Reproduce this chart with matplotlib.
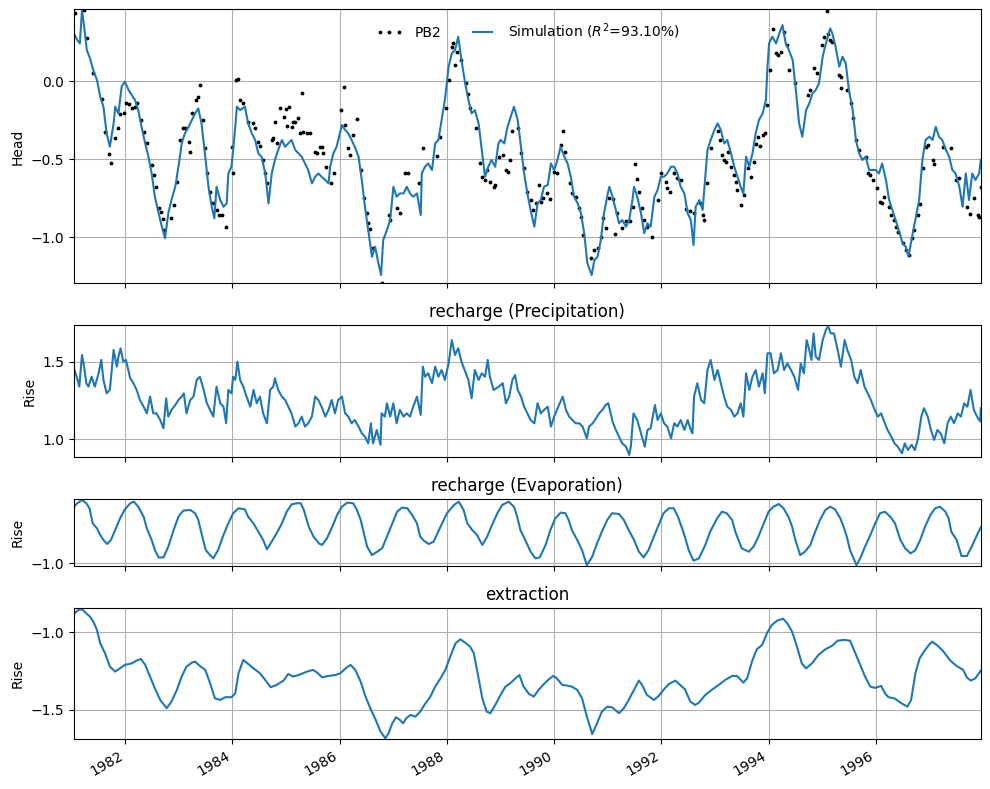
import matplotlib
matplotlib.use("Agg")
import matplotlib.pyplot as plt
import matplotlib.dates as mdates
from matplotlib.ticker import MultipleLocator
import numpy as np
import pandas as pd

# --- data (decimal years) ---
sim_years = [1981.04, 1981.10, 1981.15, 1981.19, 1981.23, 1981.28, 1981.34, 1981.40, 1981.47, 1981.53,
             1981.59, 1981.65, 1981.71, 1981.78, 1981.81, 1981.87, 1981.93, 1981.99, 1982.06, 1982.12,
             1982.18, 1982.24, 1982.30, 1982.37, 1982.43, 1982.49, 1982.55, 1982.62, 1982.68, 1982.74,
             1982.80, 1982.86, 1982.93, 1982.99, 1983.05, 1983.11, 1983.18, 1983.24, 1983.30, 1983.36,
             1983.42, 1983.49, 1983.55, 1983.61, 1983.66, 1983.70, 1983.77, 1983.83, 1983.89, 1983.92,
             1983.98, 1984.05, 1984.08, 1984.14, 1984.23, 1984.29, 1984.36, 1984.42, 1984.48, 1984.54,
             1984.61, 1984.67, 1984.73, 1984.79, 1984.85, 1984.92, 1984.98, 1985.04, 1985.10, 1985.17,
             1985.23, 1985.29, 1985.35, 1985.41, 1985.48, 1985.54, 1985.60, 1985.66, 1985.73, 1985.79,
             1985.82, 1985.88, 1985.94, 1986.00, 1986.04, 1986.10, 1986.16, 1986.22, 1986.28, 1986.35,
             1986.41, 1986.47, 1986.53, 1986.60, 1986.66, 1986.72, 1986.77, 1986.81, 1986.88, 1986.94,
             1987.00, 1987.06, 1987.12, 1987.19, 1987.25, 1987.31, 1987.37, 1987.44, 1987.51, 1987.53,
             1987.59, 1987.65, 1987.72, 1987.78, 1987.84, 1987.90, 1987.96, 1987.99, 1988.03, 1988.09,
             1988.15, 1988.21, 1988.27, 1988.34, 1988.40, 1988.46, 1988.52, 1988.59, 1988.65, 1988.71,
             1988.77, 1988.83, 1988.90, 1988.96, 1989.00, 1989.07, 1989.13, 1989.19, 1989.25, 1989.32,
             1989.38, 1989.44, 1989.50, 1989.56, 1989.63, 1989.69, 1989.75, 1989.81, 1989.88, 1989.94,
             1990.00, 1990.06, 1990.12, 1990.19, 1990.25, 1990.31, 1990.37, 1990.44, 1990.50, 1990.56,
             1990.62, 1990.70, 1990.75, 1990.81, 1990.87, 1990.93, 1991.00, 1991.03, 1991.09, 1991.15,
             1991.21, 1991.27, 1991.34, 1991.40, 1991.46, 1991.49, 1991.55, 1991.62, 1991.68, 1991.74,
             1991.80, 1991.87, 1991.93, 1991.99, 1992.05, 1992.11, 1992.18, 1992.24, 1992.30, 1992.36,
             1992.43, 1992.49, 1992.55, 1992.60, 1992.64, 1992.71, 1992.77, 1992.80, 1992.86, 1992.92,
             1992.99, 1993.05, 1993.11, 1993.17, 1993.23, 1993.30, 1993.36, 1993.42, 1993.48, 1993.53,
             1993.58, 1993.64, 1993.70, 1993.76, 1993.82, 1993.89, 1993.95, 1993.98, 1994.01, 1994.07,
             1994.14, 1994.20, 1994.26, 1994.32, 1994.38, 1994.45, 1994.51, 1994.57, 1994.63, 1994.70,
             1994.76, 1994.82, 1994.88, 1994.94, 1995.01, 1995.07, 1995.15, 1995.19, 1995.25, 1995.32,
             1995.38, 1995.44, 1995.50, 1995.57, 1995.63, 1995.69, 1995.75, 1995.81, 1995.88, 1995.94,
             1996.00, 1996.06, 1996.12, 1996.19, 1996.25, 1996.31, 1996.37, 1996.43, 1996.50, 1996.56,
             1996.61, 1996.69, 1996.75, 1996.81, 1996.87, 1996.93, 1997.00, 1997.06, 1997.12, 1997.18,
             1997.24, 1997.31, 1997.37, 1997.43, 1997.49, 1997.56, 1997.62, 1997.68, 1997.74, 1997.80,
             1997.86, 1997.93, 1997.96]
sim_head = [0.305, 0.262, 0.241, 0.454, 0.348, 0.198, 0.145, 0.070, 0.006, -0.100,
            -0.164, -0.335, -0.420, -0.271, -0.164, -0.207, -0.036, -0.004, -0.058, -0.090,
            -0.122, -0.186, -0.292, -0.399, -0.484, -0.591, -0.740, -0.846, -0.932, -1.006,
            -0.846, -0.761, -0.676, -0.548, -0.399, -0.335, -0.292, -0.249, -0.207, -0.175,
            -0.271, -0.484, -0.676, -0.804, -0.878, -0.676, -0.761, -0.804, -0.783, -0.591,
            -0.548, -0.292, -0.164, -0.186, -0.164, -0.271, -0.335, -0.377, -0.463, -0.484,
            -0.591, -0.783, -0.591, -0.505, -0.441, -0.377, -0.420, -0.399, -0.377, -0.441,
            -0.463, -0.484, -0.527, -0.569, -0.655, -0.612, -0.591, -0.612, -0.633, -0.655,
            -0.548, -0.463, -0.420, -0.335, -0.281, -0.313, -0.335, -0.377, -0.420, -0.484,
            -0.633, -0.804, -0.953, -1.124, -1.060, -1.166, -1.241, -1.017, -0.953, -0.889,
            -0.676, -0.740, -0.719, -0.719, -0.676, -0.719, -0.740, -0.719, -0.857, -0.591,
            -0.548, -0.527, -0.569, -0.399, -0.377, -0.249, -0.122, -0.036, 0.092, 0.177,
            0.198, 0.284, 0.134, -0.015, -0.122, -0.207, -0.186, -0.271, -0.441, -0.612,
            -0.548, -0.505, -0.548, -0.399, -0.377, -0.399, -0.292, -0.228, -0.164, -0.249,
            -0.420, -0.591, -0.719, -0.825, -0.932, -0.783, -0.761, -0.676, -0.665, -0.527,
            -0.569, -0.505, -0.420, -0.484, -0.527, -0.612, -0.740, -0.783, -0.846, -0.974,
            -1.166, -1.241, -1.145, -1.124, -1.017, -0.846, -0.719, -0.676, -0.740, -0.825,
            -0.910, -0.889, -0.932, -0.889, -0.761, -0.676, -0.740, -0.846, -0.974, -0.910,
            -0.932, -0.740, -0.697, -0.612, -0.612, -0.591, -0.548, -0.548, -0.591, -0.676,
            -0.719, -0.846, -0.889, -1.049, -0.804, -0.761, -0.825, -0.697, -0.441, -0.377,
            -0.313, -0.271, -0.313, -0.399, -0.377, -0.463, -0.548, -0.612, -0.676, -0.719,
            -0.484, -0.548, -0.463, -0.335, -0.249, -0.207, -0.122, 0.092, 0.241, 0.284,
            0.241, 0.305, 0.358, 0.241, 0.198, 0.134, -0.058, -0.271, -0.356, -0.186,
            -0.143, -0.079, -0.058, -0.015, 0.156, 0.241, 0.337, 0.305, 0.220, 0.092,
            0.156, 0.113, -0.058, -0.186, -0.377, -0.463, -0.505, -0.484, -0.569, -0.569,
            -0.569, -0.591, -0.527, -0.633, -0.761, -0.825, -0.889, -0.953, -1.038, -1.060,
            -1.124, -0.974, -0.868, -0.761, -0.505, -0.377, -0.356, -0.377, -0.292, -0.356,
            -0.377, -0.441, -0.484, -0.569, -0.591, -0.676, -0.804, -0.591, -0.761, -0.591,
            -0.633, -0.591, -0.505]

obs_years = [1981.06, 1981.23, 1981.29, 1981.39, 1981.56, 1981.62, 1981.70, 1981.74, 1981.81, 1981.87,
             1981.90, 1981.98, 1982.01, 1982.06, 1982.12, 1982.17, 1982.22, 1982.30, 1982.34, 1982.40,
             1982.49, 1982.53, 1982.57, 1982.62, 1982.66, 1982.71, 1982.72, 1982.86, 1982.91, 1982.96,
             1983.02, 1983.07, 1983.11, 1983.18, 1983.21, 1983.24, 1983.32, 1983.36, 1983.39, 1983.44,
             1983.49, 1983.53, 1983.58, 1983.64, 1983.70, 1983.75, 1983.80, 1983.87, 1983.98, 1984.01,
             1984.06, 1984.10, 1984.14, 1984.20, 1984.29, 1984.39, 1984.42, 1984.48, 1984.51, 1984.57,
             1984.61, 1984.64, 1984.73, 1984.76, 1984.79, 1984.82, 1984.89, 1984.95, 1985.00, 1985.01,
             1985.05, 1985.10, 1985.13, 1985.17, 1985.22, 1985.26, 1985.29, 1985.32, 1985.38, 1985.45,
             1985.54, 1985.57, 1985.63, 1985.66, 1985.69, 1985.74, 1985.83, 1985.90, 1986.02, 1986.07,
             1986.10, 1986.16, 1986.19, 1986.25, 1986.33, 1986.39, 1986.46, 1986.50, 1986.53, 1986.56,
             1986.62, 1986.78, 1986.91, 1986.94, 1987.06, 1987.12, 1987.22, 1987.28, 1987.47, 1987.55,
             1987.81, 1987.87, 1987.98, 1988.03, 1988.09, 1988.12, 1988.15, 1988.18, 1988.27, 1988.36,
             1988.40, 1988.43, 1988.54, 1988.62, 1988.65, 1988.71, 1988.74, 1988.80, 1988.87, 1988.90,
             1988.97, 1989.04, 1989.10, 1989.13, 1989.18, 1989.21, 1989.32, 1989.38, 1989.44, 1989.49,
             1989.56, 1989.61, 1989.66, 1989.72, 1989.76, 1989.80, 1989.86, 1989.93, 1990.00, 1990.06,
             1990.12, 1990.16, 1990.20, 1990.30, 1990.33, 1990.40, 1990.47, 1990.50, 1990.53, 1990.68,
             1990.75, 1990.81, 1990.88, 1990.92, 1990.96, 1991.03, 1991.09, 1991.13, 1991.17, 1991.26,
             1991.34, 1991.42, 1991.48, 1991.50, 1991.55, 1991.59, 1991.63, 1991.67, 1991.74, 1991.83,
             1991.93, 1991.99, 1992.08, 1992.11, 1992.16, 1992.23, 1992.30, 1992.36, 1992.46, 1992.54,
             1992.61, 1992.72, 1992.77, 1992.80, 1992.85, 1992.92, 1993.05, 1993.10, 1993.14, 1993.17,
             1993.20, 1993.25, 1993.30, 1993.35, 1993.39, 1993.42, 1993.48, 1993.54, 1993.61, 1993.67,
             1993.73, 1993.76, 1993.81, 1993.84, 1993.89, 1993.93, 1993.97, 1994.03, 1994.09, 1994.14,
             1994.18, 1994.23, 1994.29, 1994.34, 1994.38, 1994.49, 1994.73, 1994.78, 1994.84, 1994.90,
             1994.99, 1995.04, 1995.09, 1995.11, 1995.15, 1995.19, 1995.32, 1995.35, 1995.36, 1995.47,
             1995.53, 1995.57, 1995.63, 1995.69, 1995.81, 1995.85, 1995.90, 1995.94, 1996.03, 1996.08,
             1996.11, 1996.16, 1996.25, 1996.28, 1996.34, 1996.37, 1996.41, 1996.50, 1996.56, 1996.62,
             1996.67, 1996.72, 1996.78, 1996.83, 1996.89, 1996.93, 1996.97, 1997.06, 1997.09, 1997.25,
             1997.40, 1997.49, 1997.56, 1997.71, 1997.76, 1997.84, 1997.90, 1997.93, 1997.96]
obs_head = [0.433, 0.454, 0.273, 0.049, -0.117, -0.324, -0.469, -0.527, -0.365, -0.303,
            -0.213, -0.207, -0.143, -0.147, -0.175, -0.164, -0.143, -0.249, -0.324, -0.399,
            -0.537, -0.601, -0.676, -0.814, -0.836, -0.885, -0.953, -0.878, -0.793, -0.644,
            -0.377, -0.303, -0.303, -0.388, -0.452, -0.207, -0.122, -0.100, -0.026, -0.249,
            -0.431, -0.591, -0.708, -0.783, -0.825, -0.857, -0.857, -0.932, -0.420, -0.591,
            0.006, 0.011, -0.122, -0.143, -0.260, -0.271, -0.303, -0.388, -0.414, -0.505,
            -0.591, -0.655, -0.377, -0.367, -0.260, -0.399, -0.175, -0.228, -0.181, -0.288,
            -0.164, -0.292, -0.260, -0.260, -0.239, -0.335, -0.079, -0.324, -0.335, -0.335,
            -0.452, -0.463, -0.420, -0.420, -0.463, -0.548, -0.655, -0.591, -0.186, -0.036,
            -0.281, -0.431, -0.473, -0.345, -0.243, -0.569, -0.751, -0.846, -0.910, -0.949,
            -1.070, -1.294, -0.857, -0.889, -0.814, -0.846, -0.591, -0.591, -0.655, -0.431,
            -0.480, -0.356, -0.175, 0.006, 0.220, 0.241, 0.102, 0.188, 0.134, -0.015,
            -0.085, -0.175, -0.303, -0.527, -0.612, -0.633, -0.569, -0.644, -0.676, -0.665,
            -0.484, -0.473, -0.569, -0.580, -0.505, -0.320, -0.303, -0.463, -0.559, -0.708,
            -0.761, -0.825, -0.783, -0.665, -0.772, -0.751, -0.719, -0.757, -0.580, -0.591,
            -0.409, -0.320, -0.452, -0.655, -0.714, -0.740, -0.814, -0.868, -0.985, -1.130,
            -1.081, -1.070, -0.996, -0.878, -0.938, -0.751, -0.757, -0.981, -0.846, -0.942,
            -0.893, -0.893, -0.804, -0.533, -0.627, -0.708, -0.814, -0.889, -0.932, -0.996,
            -0.761, -0.591, -0.644, -0.687, -0.712, -0.591, -0.618, -0.633, -0.821, -0.829,
            -0.846, -0.778, -0.857, -0.889, -0.655, -0.426, -0.320, -0.377, -0.473, -0.505,
            -0.516, -0.452, -0.548, -0.601, -0.644, -0.697, -0.793, -0.729, -0.559, -0.612,
            -0.516, -0.403, -0.356, -0.414, -0.345, -0.335, -0.154, 0.070, 0.330, 0.177,
            0.166, 0.188, 0.311, 0.230, 0.070, -0.015, -0.090, -0.058, 0.081, 0.049,
            0.230, 0.284, 0.448, 0.299, 0.262, 0.252, 0.038, 0.028, -0.047, -0.058,
            -0.143, -0.239, -0.377, -0.441, -0.484, -0.586, -0.601, -0.633, -0.687, -0.772,
            -0.783, -0.740, -0.804, -0.857, -0.889, -0.932, -0.964, -1.038, -1.081, -1.113,
            -1.006, -0.953, -0.857, -0.787, -0.559, -0.420, -0.409, -0.505, -0.533, -0.420,
            -0.431, -0.633, -0.623, -0.804, -0.853, -0.751, -0.857, -0.868, -0.680]

prec_years = [1981.04, 1981.09, 1981.14, 1981.19, 1981.23, 1981.27, 1981.31, 1981.37, 1981.43, 1981.50,
              1981.55, 1981.59, 1981.65, 1981.71, 1981.78, 1981.84, 1981.87, 1981.91, 1981.96, 1982.01,
              1982.09, 1982.15, 1982.21, 1982.27, 1982.34, 1982.40, 1982.46, 1982.52, 1982.58, 1982.65,
              1982.71, 1982.76, 1982.80, 1982.86, 1982.93, 1982.99, 1983.05, 1983.09, 1983.14, 1983.21,
              1983.27, 1983.33, 1983.39, 1983.46, 1983.52, 1983.58, 1983.64, 1983.70, 1983.77, 1983.83,
              1983.88, 1983.92, 1983.98, 1984.01, 1984.05, 1984.09, 1984.14, 1984.20, 1984.26, 1984.33,
              1984.39, 1984.45, 1984.51, 1984.57, 1984.64, 1984.70, 1984.76, 1984.79, 1984.85, 1984.92,
              1984.98, 1985.04, 1985.10, 1985.17, 1985.23, 1985.29, 1985.35, 1985.41, 1985.48, 1985.54,
              1985.60, 1985.66, 1985.73, 1985.79, 1985.85, 1985.91, 1985.97, 1986.04, 1986.10, 1986.16,
              1986.22, 1986.28, 1986.35, 1986.41, 1986.47, 1986.53, 1986.58, 1986.62, 1986.69, 1986.76,
              1986.78, 1986.84, 1986.88, 1986.94, 1987.00, 1987.06, 1987.12, 1987.19, 1987.25, 1987.31,
              1987.37, 1987.44, 1987.51, 1987.55, 1987.59, 1987.65, 1987.72, 1987.78, 1987.84, 1987.90,
              1987.96, 1988.03, 1988.09, 1988.15, 1988.21, 1988.27, 1988.34, 1988.40, 1988.46, 1988.52,
              1988.59, 1988.65, 1988.71, 1988.76, 1988.80, 1988.87, 1988.97, 1989.04, 1989.10, 1989.16,
              1989.22, 1989.27, 1989.32, 1989.38, 1989.44, 1989.50, 1989.56, 1989.63, 1989.69, 1989.75,
              1989.81, 1989.88, 1989.94, 1990.00, 1990.09, 1990.16, 1990.22, 1990.28, 1990.34, 1990.40,
              1990.47, 1990.53, 1990.61, 1990.65, 1990.72, 1990.78, 1990.84, 1990.90, 1990.96, 1991.01,
              1991.09, 1991.15, 1991.21, 1991.27, 1991.34, 1991.40, 1991.43, 1991.48, 1991.55, 1991.62,
              1991.69, 1991.74, 1991.80, 1991.88, 1991.93, 1991.99, 1992.05, 1992.11, 1992.18, 1992.24,
              1992.30, 1992.36, 1992.43, 1992.49, 1992.55, 1992.58, 1992.61, 1992.67, 1992.74, 1992.80,
              1992.86, 1992.92, 1992.99, 1993.05, 1993.11, 1993.17, 1993.23, 1993.30, 1993.36, 1993.42,
              1993.48, 1993.53, 1993.58, 1993.64, 1993.70, 1993.76, 1993.82, 1993.89, 1993.93, 1993.98,
              1994.04, 1994.10, 1994.17, 1994.23, 1994.29, 1994.35, 1994.42, 1994.48, 1994.55, 1994.60,
              1994.66, 1994.71, 1994.76, 1994.80, 1994.84, 1994.88, 1994.94, 1995.01, 1995.07, 1995.11,
              1995.16, 1995.22, 1995.29, 1995.35, 1995.42, 1995.47, 1995.54, 1995.60, 1995.66, 1995.72,
              1995.79, 1995.85, 1995.91, 1995.98, 1996.04, 1996.10, 1996.17, 1996.22, 1996.29, 1996.35,
              1996.41, 1996.49, 1996.54, 1996.60, 1996.67, 1996.73, 1996.79, 1996.85, 1996.90, 1996.97,
              1997.03, 1997.09, 1997.15, 1997.21, 1997.28, 1997.34, 1997.40, 1997.46, 1997.53, 1997.59,
              1997.65, 1997.71, 1997.77, 1997.83, 1997.89, 1997.95, 1997.96]
prec_rise = [1.457, 1.403, 1.339, 1.543, 1.468, 1.361, 1.339, 1.403, 1.339, 1.425,
             1.511, 1.382, 1.296, 1.318, 1.575, 1.468, 1.532, 1.586, 1.500, 1.511,
             1.393, 1.361, 1.318, 1.253, 1.210, 1.167, 1.275, 1.167, 1.167, 1.124,
             1.071, 1.264, 1.146, 1.189, 1.221, 1.253, 1.275, 1.296, 1.167, 1.253,
             1.275, 1.382, 1.403, 1.318, 1.232, 1.189, 1.146, 1.339, 1.232, 1.210,
             1.103, 1.318, 1.296, 1.403, 1.382, 1.500, 1.382, 1.339, 1.275, 1.210,
             1.318, 1.232, 1.275, 1.167, 1.103, 1.318, 1.339, 1.393, 1.318, 1.275,
             1.253, 1.210, 1.167, 1.082, 1.103, 1.146, 1.082, 1.103, 1.146, 1.275,
             1.253, 1.210, 1.146, 1.189, 1.253, 1.167, 1.253, 1.275, 1.167, 1.146,
             1.103, 1.124, 1.082, 1.039, 1.017, 0.974, 1.103, 0.974, 1.060, 0.964,
             1.167, 1.146, 1.232, 1.146, 1.232, 1.103, 1.189, 1.146, 1.167, 1.146,
             1.210, 1.275, 1.157, 1.468, 1.403, 1.425, 1.361, 1.468, 1.403, 1.446,
             1.382, 1.489, 1.639, 1.543, 1.586, 1.500, 1.436, 1.382, 1.264, 1.446,
             1.382, 1.425, 1.403, 1.511, 1.403, 1.318, 1.339, 1.361, 1.232, 1.275,
             1.382, 1.414, 1.318, 1.275, 1.210, 1.167, 1.124, 1.103, 1.232, 1.167,
             1.189, 1.210, 1.082, 1.146, 1.221, 1.275, 1.189, 1.146, 1.124, 1.103,
             1.103, 1.082, 1.006, 1.082, 1.103, 1.135, 1.167, 1.189, 1.221, 1.232,
             1.114, 1.060, 1.017, 0.974, 0.953, 0.899, 0.953, 1.167, 1.124, 1.039,
             0.953, 1.060, 1.071, 1.221, 1.124, 1.167, 1.103, 1.082, 1.006, 1.103,
             1.082, 1.124, 1.060, 1.124, 1.060, 1.039, 1.275, 1.361, 1.253, 1.232,
             1.446, 1.511, 1.382, 1.446, 1.361, 1.275, 1.210, 1.189, 1.146, 1.167,
             1.232, 1.146, 1.425, 1.318, 1.403, 1.446, 1.339, 1.425, 1.296, 1.554,
             1.554, 1.425, 1.446, 1.554, 1.446, 1.489, 1.446, 1.403, 1.318, 1.489,
             1.425, 1.639, 1.575, 1.511, 1.682, 1.532, 1.511, 1.639, 1.704, 1.730,
             1.682, 1.682, 1.575, 1.468, 1.639, 1.575, 1.511, 1.403, 1.361, 1.446,
             1.339, 1.296, 1.253, 1.189, 1.146, 1.167, 1.103, 1.060, 1.017, 0.974,
             0.953, 0.910, 0.974, 0.931, 0.964, 0.931, 1.006, 1.146, 1.200, 1.146,
             1.060, 0.996, 1.060, 1.039, 0.974, 1.103, 1.146, 1.103, 1.167, 1.146,
             1.232, 1.210, 1.318, 1.189, 1.146, 1.114, 1.200]

evap_years = [1981.04, 1981.10, 1981.19, 1981.27, 1981.33, 1981.39, 1981.47, 1981.53, 1981.59, 1981.66,
              1981.73, 1981.81, 1981.90, 1981.99, 1982.09, 1982.16, 1982.24, 1982.34, 1982.40, 1982.49,
              1982.55, 1982.62, 1982.71, 1982.80, 1982.90, 1982.99, 1983.08, 1983.21, 1983.30, 1983.36,
              1983.42, 1983.50, 1983.58, 1983.64, 1983.73, 1983.83, 1983.92, 1984.01, 1984.11, 1984.23,
              1984.29, 1984.39, 1984.48, 1984.57, 1984.64, 1984.73, 1984.82, 1984.92, 1985.01, 1985.10,
              1985.20, 1985.27, 1985.33, 1985.42, 1985.51, 1985.61, 1985.67, 1985.76, 1985.86, 1985.95,
              1986.04, 1986.14, 1986.25, 1986.32, 1986.39, 1986.45, 1986.51, 1986.60, 1986.70, 1986.79,
              1986.88, 1986.98, 1987.07, 1987.16, 1987.26, 1987.35, 1987.44, 1987.50, 1987.57, 1987.66,
              1987.75, 1987.88, 1988.00, 1988.13, 1988.22, 1988.31, 1988.38, 1988.47, 1988.56, 1988.66,
              1988.75, 1988.84, 1988.94, 1989.03, 1989.15, 1989.25, 1989.31, 1989.37, 1989.46, 1989.56,
              1989.65, 1989.73, 1989.84, 1989.93, 1990.02, 1990.12, 1990.21, 1990.27, 1990.33, 1990.43,
              1990.52, 1990.61, 1990.71, 1990.80, 1990.89, 1990.99, 1991.08, 1991.21, 1991.30, 1991.39,
              1991.49, 1991.58, 1991.67, 1991.76, 1991.86, 1991.95, 1992.04, 1992.14, 1992.23, 1992.31,
              1992.42, 1992.51, 1992.60, 1992.70, 1992.82, 1992.91, 1993.04, 1993.13, 1993.22, 1993.32,
              1993.38, 1993.44, 1993.50, 1993.63, 1993.72, 1993.81, 1993.91, 1994.00, 1994.09, 1994.19,
              1994.28, 1994.37, 1994.44, 1994.50, 1994.59, 1994.68, 1994.78, 1994.87, 1994.96, 1995.06,
              1995.15, 1995.24, 1995.34, 1995.40, 1995.46, 1995.52, 1995.64, 1995.71, 1995.80, 1995.90,
              1995.99, 1996.08, 1996.17, 1996.27, 1996.36, 1996.46, 1996.55, 1996.65, 1996.74, 1996.83,
              1996.92, 1997.02, 1997.11, 1997.20, 1997.30, 1997.36, 1997.41, 1997.51, 1997.60, 1997.70,
              1997.79, 1997.89, 1997.96]
evap_rise = [-0.637, -0.615, -0.594, -0.615, -0.647, -0.744, -0.776, -0.818, -0.850, -0.876,
             -0.850, -0.786, -0.712, -0.654, -0.615, -0.605, -0.637, -0.701, -0.776, -0.850,
             -0.915, -0.962, -0.962, -0.893, -0.786, -0.701, -0.662, -0.658, -0.679, -0.722,
             -0.808, -0.915, -0.947, -0.968, -0.915, -0.818, -0.744, -0.679, -0.647, -0.654,
             -0.701, -0.744, -0.797, -0.850, -0.910, -0.861, -0.808, -0.744, -0.669, -0.622,
             -0.615, -0.615, -0.658, -0.765, -0.829, -0.872, -0.882, -0.840, -0.765, -0.690,
             -0.637, -0.611, -0.615, -0.658, -0.722, -0.808, -0.893, -0.947, -0.925, -0.904,
             -0.829, -0.744, -0.669, -0.643, -0.647, -0.690, -0.744, -0.829, -0.855, -0.876,
             -0.861, -0.765, -0.679, -0.626, -0.605, -0.658, -0.744, -0.786, -0.818, -0.882,
             -0.829, -0.754, -0.679, -0.626, -0.605, -0.637, -0.701, -0.786, -0.850, -0.925,
             -0.968, -0.962, -0.882, -0.786, -0.712, -0.675, -0.679, -0.722, -0.786, -0.850,
             -0.915, -1.011, -0.957, -0.872, -0.797, -0.722, -0.679, -0.684, -0.722, -0.786,
             -0.850, -0.925, -0.962, -0.915, -0.829, -0.754, -0.679, -0.647, -0.647, -0.701,
             -0.808, -0.915, -0.983, -0.968, -0.882, -0.797, -0.712, -0.669, -0.679, -0.722,
             -0.797, -0.850, -0.904, -0.925, -0.893, -0.829, -0.744, -0.669, -0.637, -0.620,
             -0.647, -0.701, -0.765, -0.850, -0.947, -0.925, -0.882, -0.797, -0.722, -0.658,
             -0.637, -0.654, -0.712, -0.765, -0.829, -0.915, -1.011, -0.968, -0.893, -0.818,
             -0.744, -0.679, -0.669, -0.701, -0.744, -0.850, -0.904, -0.936, -0.915, -0.850,
             -0.765, -0.690, -0.647, -0.637, -0.669, -0.712, -0.797, -0.850, -0.953, -0.953,
             -0.893, -0.818, -0.769]

extr_years = [1981.04, 1981.12, 1981.19, 1981.27, 1981.34, 1981.40, 1981.47, 1981.53, 1981.62, 1981.71,
              1981.81, 1981.90, 1981.99, 1982.12, 1982.21, 1982.29, 1982.37, 1982.46, 1982.55, 1982.65,
              1982.77, 1982.86, 1982.96, 1983.05, 1983.14, 1983.24, 1983.30, 1983.39, 1983.49, 1983.58,
              1983.67, 1983.77, 1983.86, 1983.98, 1984.05, 1984.11, 1984.20, 1984.29, 1984.39, 1984.51,
              1984.61, 1984.71, 1984.82, 1984.95, 1985.04, 1985.13, 1985.23, 1985.39, 1985.50, 1985.58,
              1985.67, 1985.79, 1985.92, 1986.01, 1986.11, 1986.20, 1986.29, 1986.39, 1986.48, 1986.57,
              1986.67, 1986.76, 1986.85, 1986.91, 1986.98, 1987.05, 1987.12, 1987.18, 1987.24, 1987.32,
              1987.41, 1987.50, 1987.60, 1987.69, 1987.78, 1987.88, 1987.97, 1988.06, 1988.16, 1988.25,
              1988.34, 1988.43, 1988.50, 1988.56, 1988.66, 1988.74, 1988.81, 1988.90, 1989.00, 1989.09,
              1989.18, 1989.28, 1989.35, 1989.43, 1989.53, 1989.62, 1989.71, 1989.81, 1989.90, 1989.98,
              1990.05, 1990.15, 1990.24, 1990.33, 1990.43, 1990.52, 1990.61, 1990.71, 1990.80, 1990.89,
              1990.99, 1991.08, 1991.21, 1991.30, 1991.39, 1991.49, 1991.58, 1991.64, 1991.73, 1991.86,
              1991.95, 1992.04, 1992.14, 1992.26, 1992.35, 1992.44, 1992.54, 1992.63, 1992.70, 1992.82,
              1992.94, 1993.07, 1993.19, 1993.32, 1993.41, 1993.47, 1993.53, 1993.60, 1993.69, 1993.78,
              1993.88, 1993.97, 1994.06, 1994.16, 1994.27, 1994.35, 1994.44, 1994.53, 1994.62, 1994.70,
              1994.81, 1994.93, 1995.06, 1995.18, 1995.29, 1995.40, 1995.52, 1995.62, 1995.71, 1995.80,
              1995.90, 1995.99, 1996.10, 1996.18, 1996.24, 1996.36, 1996.46, 1996.59, 1996.66, 1996.74,
              1996.82, 1996.90, 1996.99, 1997.05, 1997.14, 1997.25, 1997.39, 1997.51, 1997.63, 1997.70,
              1997.77, 1997.86, 1997.96]
extr_rise = [-0.882, -0.856, -0.852, -0.878, -0.899, -0.931, -0.985, -1.071, -1.135, -1.221,
             -1.253, -1.232, -1.210, -1.200, -1.182, -1.172, -1.210, -1.285, -1.361, -1.436,
             -1.489, -1.446, -1.371, -1.285, -1.221, -1.195, -1.189, -1.217, -1.242, -1.328,
             -1.425, -1.436, -1.418, -1.418, -1.393, -1.264, -1.178, -1.204, -1.232, -1.264,
             -1.307, -1.354, -1.339, -1.311, -1.268, -1.285, -1.275, -1.253, -1.242, -1.260,
             -1.290, -1.281, -1.275, -1.264, -1.232, -1.210, -1.242, -1.318, -1.414, -1.489,
             -1.564, -1.639, -1.682, -1.650, -1.586, -1.547, -1.564, -1.586, -1.554, -1.532,
             -1.543, -1.511, -1.457, -1.414, -1.350, -1.296, -1.242, -1.157, -1.071, -1.045,
             -1.067, -1.092, -1.135, -1.242, -1.425, -1.511, -1.521, -1.468, -1.403, -1.350,
             -1.328, -1.296, -1.275, -1.350, -1.397, -1.414, -1.371, -1.333, -1.303, -1.281,
             -1.296, -1.339, -1.343, -1.350, -1.371, -1.425, -1.543, -1.655, -1.586, -1.511,
             -1.479, -1.483, -1.521, -1.489, -1.436, -1.371, -1.311, -1.339, -1.403, -1.436,
             -1.410, -1.371, -1.333, -1.311, -1.339, -1.367, -1.446, -1.468, -1.453, -1.403,
             -1.371, -1.339, -1.307, -1.281, -1.281, -1.303, -1.324, -1.296, -1.189, -1.109,
             -1.082, -1.006, -0.953, -0.925, -0.912, -0.942, -0.996, -1.092, -1.200, -1.232,
             -1.200, -1.146, -1.109, -1.088, -1.054, -1.049, -1.054, -1.135, -1.210, -1.285,
             -1.350, -1.358, -1.345, -1.397, -1.418, -1.427, -1.453, -1.479, -1.436, -1.264,
             -1.167, -1.124, -1.082, -1.060, -1.082, -1.118, -1.182, -1.217, -1.242, -1.290,
             -1.311, -1.296, -1.247]

r2_label = r"Simulation ($R^2$=93.10%)"
obs_label = "PB2"
panel_titles = ["recharge (Precipitation)", "recharge (Evaporation)", "extraction"]


def to_dates(years):
    years = np.asarray(years, dtype=float)
    return pd.Timestamp("1981-01-01") + pd.to_timedelta((years - 1981.0) * 365.25, unit="D")


fig = plt.figure(figsize=(9.9, 7.89), dpi=100)
left, width = 0.0747, 0.916
ax1 = fig.add_axes([left, 0.6409, width, 0.3473])
ax2 = fig.add_axes([left, 0.4204, width, 0.1677], sharex=ax1)
ax3 = fig.add_axes([left, 0.2826, width, 0.0845], sharex=ax1)
ax4 = fig.add_axes([left, 0.0634, width, 0.1657], sharex=ax1)

blue = "#1f77b4"

ax1.plot(to_dates(obs_years), obs_head, linestyle="none", marker=".", ms=3.5,
         color="k", label=obs_label)
ax1.plot(to_dates(sim_years), sim_head, color=blue, lw=1.5, label=r2_label)
ax1.set_ylim(-1.294, 0.459)
ax1.set_ylabel("Head")
ax1.legend(loc="upper center", ncol=2, frameon=False, numpoints=3)

ax2.plot(to_dates(prec_years), prec_rise, color=blue, lw=1.5)
ax2.set_ylim(0.884, 1.736)
ax2.set_title(panel_titles[0])

ax3.plot(to_dates(evap_years), evap_rise, color=blue, lw=1.5)
ax3.set_ylim(-1.017, -0.59)
ax3.set_title(panel_titles[1])

ax4.plot(to_dates(extr_years), extr_rise, color=blue, lw=1.5)
ax4.set_ylim(-1.687, -0.845)
ax4.set_title(panel_titles[2])

for ax in (ax2, ax3, ax4):
    ax.set_ylabel("Rise")

for ax in (ax1, ax2, ax3, ax4):
    ax.yaxis.set_major_locator(MultipleLocator(0.5))
    ax.grid(True)
    if ax is not ax4:
        ax.tick_params(labelbottom=False)

ax4.xaxis.set_major_locator(mdates.YearLocator(2))
ax4.xaxis.set_major_formatter(mdates.DateFormatter("%Y"))
ax4.set_xlim(to_dates([1981.04])[0], to_dates([1997.96])[0])
for lbl in ax4.get_xticklabels():
    lbl.set_rotation(30)
    lbl.set_ha("right")

fig.savefig("out.png", dpi=100)
